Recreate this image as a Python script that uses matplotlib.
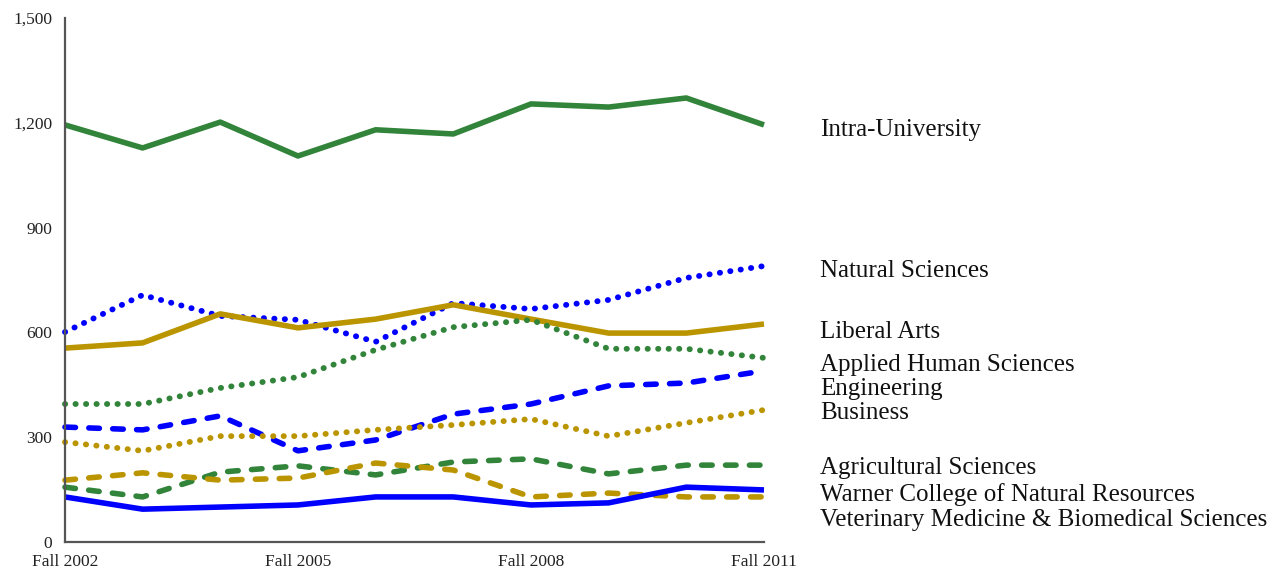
import matplotlib.pyplot as plt
from matplotlib.ticker import FuncFormatter

# enrollment by college, Fall 2002 - Fall 2011
years = list(range(2002, 2012))
intra_university = [1194, 1128, 1202, 1105, 1180, 1168, 1254, 1245, 1271, 1194]
natural_sciences = [601, 707, 647, 636, 573, 684, 667, 693, 756, 790]
liberal_arts = [555, 570, 653, 613, 638, 679, 638, 598, 598, 624]
applied_human = [395, 395, 441, 472, 550, 615, 636, 553, 553, 527]
engineering = [329, 321, 361, 261, 292, 366, 395, 447, 455, 490]
business = [286, 261, 303, 303, 321, 335, 352, 303, 341, 378]
agricultural = [157, 129, 200, 218, 192, 229, 238, 195, 220, 220]
warner = [177, 198, 177, 183, 226, 206, 129, 140, 129, 129]
vet_med = [129, 94, 100, 106, 129, 129, 106, 112, 157, 149]

# label text and its y position on the right side
label_names = ["Intra-University", "Natural Sciences", "Liberal Arts",
               "Applied Human Sciences", "Engineering", "Business",
               "Agricultural Sciences", "Warner College of Natural Resources",
               "Veterinary Medicine & Biomedical Sciences"]
label_y = [1179, 776, 601, 507, 438, 369, 212, 137, 63]

GREEN = "#31843a"
GOLD = "#bb9500"
BLUE = "#0000ff"
DOT = (0, (0.05, 1.75))
DASH = (0, (1.9, 2.4))

plt.rcParams["font.family"] = ["Liberation Serif", "DejaVu Serif"]

fig = plt.figure(figsize=(12.81, 5.75), dpi=100)
ax = fig.add_axes([0.0507, 0.0574, 0.5457, 0.9113])

series = [
    (intra_university, GREEN, "-", 4.0),
    (natural_sciences, BLUE, DOT, 4.2),
    (liberal_arts, GOLD, "-", 4.0),
    (applied_human, GREEN, DOT, 4.2),
    (engineering, BLUE, DASH, 4.0),
    (business, GOLD, DOT, 4.2),
    (agricultural, GREEN, DASH, 4.0),
    (warner, GOLD, DASH, 4.0),
    (vet_med, BLUE, "-", 4.0),
]
for vals, col, ls, lw in series:
    line, = ax.plot(years, vals, color=col, linestyle=ls, linewidth=lw,
                    clip_on=False)
    line.set_dash_capstyle("round")
    line.set_solid_capstyle("butt")

for name, y in zip(label_names, label_y):
    ax.text(2011.72, y, name, fontsize=18, va="center", ha="left",
            color="#111111")

ax.set_xlim(2002, 2011)
ax.set_ylim(0, 1500)
ax.set_yticks([0, 300, 600, 900, 1200, 1500])
ax.yaxis.set_major_formatter(FuncFormatter(lambda v, p: f"{int(v):,}"))
ax.set_xticks([2002, 2005, 2008, 2011])
ax.set_xticklabels(["Fall 2002", "Fall 2005", "Fall 2008", "Fall 2011"])
ax.tick_params(length=0, labelsize=12.5, colors="#222222")
ax.tick_params(axis="y", pad=9)
ax.tick_params(axis="x", pad=9)

for s in ["top", "right"]:
    ax.spines[s].set_visible(False)
for s in ["left", "bottom"]:
    ax.spines[s].set_color("#555555")
    ax.spines[s].set_linewidth(1.6)

fig.savefig("out.png", dpi=100)
